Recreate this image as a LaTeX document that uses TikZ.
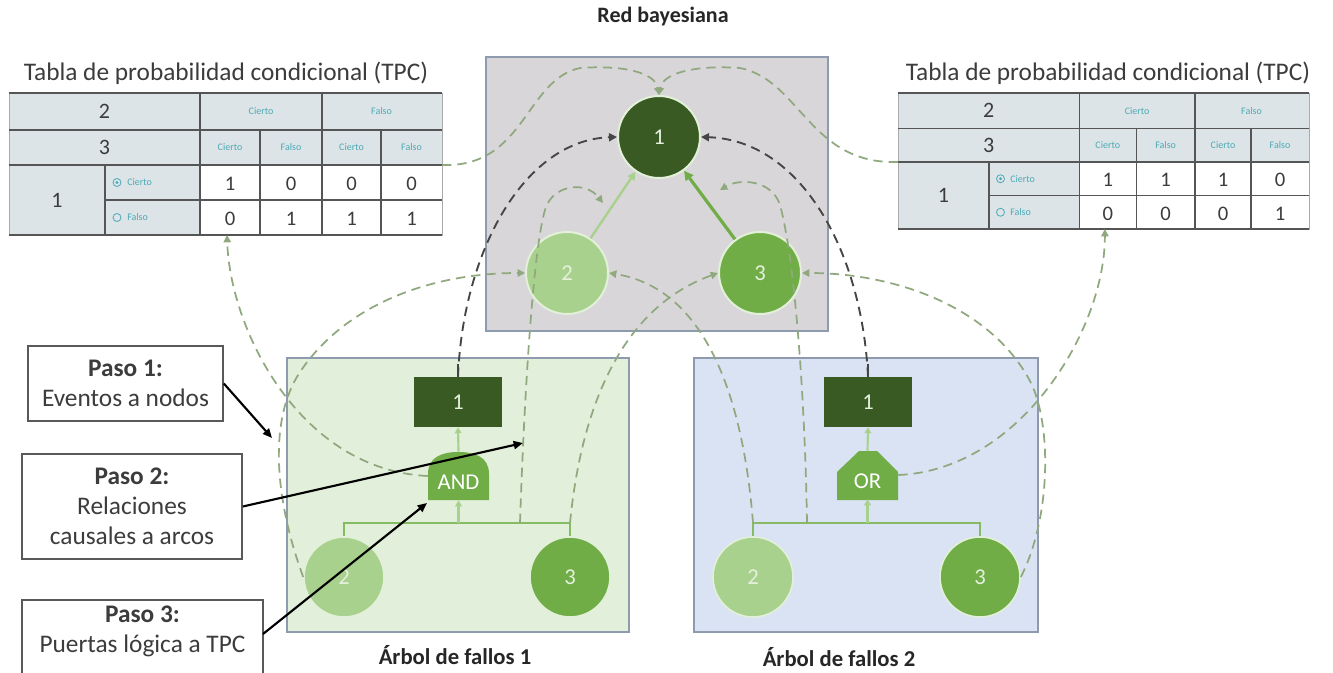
\documentclass[tikz,border=0pt]{standalone}
\usepackage{fontspec}
\setmainfont{Carlito}
\usetikzlibrary{arrows.meta}
\definecolor{dkgreen}{HTML}{3A5A24}
\definecolor{ltgreen}{HTML}{A9D18E}
\definecolor{mdgreen}{HTML}{70AD47}
\definecolor{circedge}{HTML}{E2F0D9}
\definecolor{numtxt}{HTML}{E4F0DC}
\definecolor{bnfill}{HTML}{D9D6DA}
\definecolor{paneledge}{HTML}{8E9BAE}
\definecolor{ftonefill}{HTML}{E2EFDA}
\definecolor{fttwofill}{HTML}{DAE3F3}
\definecolor{dashgreen}{HTML}{8FA87E}
\definecolor{dashdark}{HTML}{454545}
\definecolor{tabhead}{HTML}{DCE4E7}
\definecolor{tabline}{HTML}{555555}
\definecolor{tealc}{HTML}{4BAAB5}
\definecolor{barg}{HTML}{86BB63}
\definecolor{stepedge}{HTML}{595959}
\definecolor{txtgray}{HTML}{3C3C3C}
\tikzset{
  bncirc/.style={circle, draw=circedge, line width=1.5pt, minimum size=61.5pt, inner sep=0pt, text=numtxt, font=\fontsize{17}{17}\selectfont},
  ftcirc/.style={circle, draw=circedge, line width=1.2pt, minimum size=60pt, inner sep=0pt, text=numtxt, font=\fontsize{17}{17}\selectfont},
  ftrect/.style={rectangle, fill=dkgreen, minimum width=66pt, minimum height=37.5pt, inner sep=0pt, text=numtxt, font=\fontsize{17}{17}\selectfont},
  gatelbl/.style={minimum width=45.75pt, minimum height=36pt, inner sep=0pt, text=white, text height=20pt, text depth=0pt, font=\fontsize{17}{17}\selectfont},
  stepbox/.style={draw=stepedge, line width=1.2pt, fill=white, align=center, inner sep=0pt, font=\fontsize{19}{22.5}\selectfont, text=txtgray},
  steptext/.style={align=center, inner sep=0pt, font=\fontsize{19}{22.5}\selectfont, text=txtgray},
  panel/.style={draw=paneledge, line width=0.9pt, inner sep=0pt},
  dgarrow/.style={draw=dashgreen, line width=1.3pt, dash pattern=on 7pt off 4.5pt, -{Triangle[length=5.5pt,width=5.5pt]}},
  dkarrow/.style={draw=dashdark, line width=1.4pt, dash pattern=on 7pt off 4.5pt, -{Triangle[length=6pt,width=6pt]}},
  ftline/.style={draw=barg, line width=1.6pt},
  ftarrow/.style={draw=ltgreen, line width=1.6pt, -{Triangle[length=4.5pt,width=5pt]}},
  steparrow/.style={draw=black, line width=1.6pt, -{Triangle[length=7pt,width=6pt]}},
  tabbig/.style={text=txtgray, font=\fontsize{16.5}{16.5}\selectfont, inner sep=0pt},
  tabval/.style={text=txtgray, font=\fontsize{15.5}{15.5}\selectfont, inner sep=0pt},
  tabsmall/.style={text=tealc, font=\fontsize{7.5}{8}\selectfont, inner sep=0pt},
  radio/.style={circle, draw=tealc, line width=0.6pt, minimum size=6pt, inner sep=0pt},
  ttl/.style={text=txtgray, font=\fontsize{19}{19}\selectfont, inner sep=0pt},
  bold/.style={text=black!85, font=\bfseries\fontsize{17}{17}\selectfont, inner sep=0pt},
}
\newcommand{\tpc}[9]{%
  \fill[tabhead] (0,0) rectangle (433,72);
  \fill[tabhead] (0,72) rectangle (191,142);
  \fill[white] (191,72) rectangle (433,142);
  \draw[tabline!50, line width=0.6pt] (0,0) rectangle (433,142);
  \draw[tabline, line width=1pt] (0,0) -- (433,0) (0,37) -- (433,37) (0,72) -- (433,72)
     (96,107) -- (433,107) (0,142) -- (433,142)
     (191,0) -- (191,142) (313,0) -- (313,142) (251,37) -- (251,142)
     (372,37) -- (372,142) (96,72) -- (96,142);
  \node[tabbig] (#1-h2) at (95.5,18.5) {2};
  \node[tabbig] (#1-h3) at (95.5,54.5) {3};
  \node[tabbig] (#1-h1) at (48,107) {1};
  \node[tabsmall] (#1-c1) at (252,18.5) {Cierto};
  \node[tabsmall] (#1-f1) at (372.5,18.5) {Falso};
  \node[tabsmall] (#1-c2) at (221,54.5) {Cierto};
  \node[tabsmall] (#1-f2) at (282,54.5) {Falso};
  \node[tabsmall] (#1-c3) at (342.5,54.5) {Cierto};
  \node[tabsmall] (#1-f3) at (402.5,54.5) {Falso};
  \node[radio] (#1-ra) at (108,89.5) {};
  \fill[tealc] (108,89.5) circle (1.2pt);
  \node[tabsmall, anchor=west] (#1-rc) at (118,89.5) {Cierto};
  \node[radio] (#1-rb) at (108,124.5) {};
  \node[tabsmall, anchor=west] (#1-rf) at (118,124.5) {Falso};
  \node[tabval] (#1-v1) at (221,91) {#2};
  \node[tabval] (#1-v2) at (282,91) {#3};
  \node[tabval] (#1-v3) at (342.5,91) {#4};
  \node[tabval] (#1-v4) at (402.5,91) {#5};
  \node[tabval] (#1-w1) at (221,126) {#6};
  \node[tabval] (#1-w2) at (282,126) {#7};
  \node[tabval] (#1-w3) at (342.5,126) {#8};
  \node[tabval] (#1-w4) at (402.5,126) {#9};
  \coordinate (#1-e) at (433,72);
  \coordinate (#1-w) at (0,72);
  \coordinate (#1-b) at (218,142);
}
\begin{document}
\begin{tikzpicture}[x=0.75pt, y=-0.75pt]
\useasboundingbox (0,0) rectangle (1333,673);
\fill[white] (0,0) rectangle (1333,673);

% panels
\node[panel, fill=bnfill, minimum width=256.5pt, minimum height=205.5pt] (bnbox) at (657,194) {};
\node[panel, fill=ftonefill, minimum width=256.5pt, minimum height=205.5pt] (ftonebox) at (458,495) {};
\node[panel, fill=fttwofill, minimum width=258pt, minimum height=205.5pt] (fttwobox) at (866,495) {};

% titles
\node[bold, font=\bfseries\fontsize{16.5}{16.5}\selectfont] (ttlbn) at (663,17) {Red bayesiana};
\node[ttl, anchor=base] (ttlL) at (226,81) {Tabla de probabilidad condicional (TPC)};
\node[ttl, anchor=base] (ttlR) at (1108,81) {Tabla de probabilidad condicional (TPC)};
\node[bold, anchor=base] (ttlft1) at (455,664) {Árbol de fallos 1};
\node[bold, anchor=base] (ttlft2) at (839,666) {Árbol de fallos 2};

% tables
\begin{scope}[shift={(9,93)}]
\tpc{tabL}{1}{0}{0}{0}{0}{1}{1}{1}
\end{scope}
\begin{scope}[shift={(898,93)}, xscale=0.949, yscale=0.958]
\tpc{tabR}{1}{1}{1}{0}{0}{0}{0}{1}
\end{scope}

% Bayesian network nodes
\path (659,137) node[bncirc, fill=dkgreen] (b1) {1};
\path (567,273) node[bncirc, fill=ltgreen] (b2) {2};
\path (760,273) node[bncirc, fill=mdgreen] (b3) {3};

% fault tree 1
\fill[mdgreen] (428,500) -- (428,474) .. controls (428,457) and (442,452) .. (458.5,452)
   .. controls (475,452) and (489,457) .. (489,474) -- (489,500) -- cycle;
\node[gatelbl] (andg) at (458.5,476) {AND};
\node[ftrect] (ftoner) at (458,402) {1};
\node[ftcirc, fill=ltgreen] (ftonea) at (344,577) {2};
\node[ftcirc, fill=mdgreen] (ftoneb) at (570,577) {3};
\coordinate (ftonebarL) at (344,523);
\coordinate (ftonebarR) at (570,523);
\coordinate (ftonebarM) at (458.5,523);
\coordinate (ftonebarD) at (520,523);
\draw[ftline] (ftonea.north) -- (ftonebarL) -- (ftonebarR) -- (ftoneb.north);
\draw[ftarrow] (ftonebarM) -- (andg.south);
\draw[ftarrow] (andg.north) -- (ftoner.south);

% fault tree 2
\fill[mdgreen] (837,500) -- (837,472) -- (859,451) -- (877,451) -- (898,472) -- (898,500) -- cycle;
\node[gatelbl] (org) at (867.5,475) {OR};
\node[ftrect] (fttwor) at (868,402) {1};
\node[ftcirc, fill=ltgreen] (fttwoa) at (753,577) {2};
\node[ftcirc, fill=mdgreen] (fttwob) at (980,577) {3};
\coordinate (fttwobarL) at (753,523);
\coordinate (fttwobarR) at (980,523);
\coordinate (fttwobarM) at (867.5,523);
\coordinate (fttwobarD) at (807,523);
\draw[ftline] (fttwoa.north) -- (fttwobarL) -- (fttwobarR) -- (fttwob.north);
\draw[ftarrow] (fttwobarM) -- (org.south);
\draw[ftarrow] (org.north) -- (fttwor.south);

% stubs above top events
\draw[dashdark, line width=1.2pt] (ftoner.north) -- ++(0,-13);
\draw[dashdark, line width=1.2pt] (fttwor.north) -- ++(0,-13);

% Bayesian network edges
\coordinate (etwoone) at (603,203);
\coordinate (ethreeone) at (720,190);
\draw[ltgreen, line width=1.8pt, -{Triangle[length=6pt,width=6pt]}] (b2) -- (b1);
\draw[mdgreen, line width=2.4pt, -{Triangle[length=7pt,width=7pt]}] (b3) -- (b1);

% dashed correspondences
\draw[dgarrow] (tabL-e) .. controls (525,168) and (525,80) .. (580,68)
   .. controls (622,65) and (655,72) .. (b1.north);
\draw[dgarrow] (tabR-w) .. controls (810,165) and (800,80) .. (740,68)
   .. controls (698,65) and (663,72) .. (b1.north);
\draw[dkarrow] (ftoner.north) .. controls (463,250) and (525,140) .. (b1.west);
\draw[dkarrow] (fttwor.north) .. controls (862,250) and (800,140) .. (b1.east);
\draw[dgarrow] (ftonea.west) .. controls (275,500) and (268,420) .. (300,372)
   .. controls (345,305) and (430,273) .. (b2.west);
\draw[dgarrow] (andg.west) .. controls (300,470) and (230,330) .. (tabL-b);
\draw[dgarrow] (org.east) .. controls (1020,470) and (1105,330) .. (tabR-b);
\draw[dgarrow] (fttwob.east) .. controls (1050,520) and (1052,430) .. (1032,385)
   .. controls (995,310) and (900,273) .. (b3.east);
\draw[dgarrow] (ftonebarR) .. controls (580,420) and (615,310) .. (b3.west);
\draw[dgarrow] (fttwobarL) .. controls (745,420) and (715,290) .. (b2.east);
\draw[dgarrow] (ftonebarD) .. controls (524,400) and (533,250) .. (545,210)
   .. controls (552,185) and (585,180) .. (etwoone);
\draw[dgarrow] (fttwobarD) .. controls (805,400) and (795,260) .. (780,205)
   .. controls (772,180) and (740,178) .. (ethreeone);

% step boxes
\node[stepbox, minimum width=146.25pt, minimum height=56.25pt] (pone) at (125.5,383.5) {\textbf{Paso 1:}\\Eventos a nodos};
\node[stepbox, minimum width=165pt, minimum height=78.75pt] (ptwo) at (132,506.5) {\textbf{Paso 2:}\\Relaciones\\causales a arcos};
\draw[stepedge, line width=1.2pt, fill=white] (22,600) rectangle (263,690);
\node[steptext] (pthree) at (142.5,631) {\textbf{Paso 3:}\\Puertas lógica a TPC};
\coordinate (ponetip) at (272,438);
\coordinate (ptwotip) at (523,443);
\coordinate (pthreetip) at (427,503);
\coordinate (pthreeout) at (263,634);
\draw[steparrow] (pone.east) -- (ponetip);
\draw[steparrow] (ptwo.east) -- (ptwotip);
\draw[steparrow] (pthreeout) -- (pthreetip);
\end{tikzpicture}
\end{document}
